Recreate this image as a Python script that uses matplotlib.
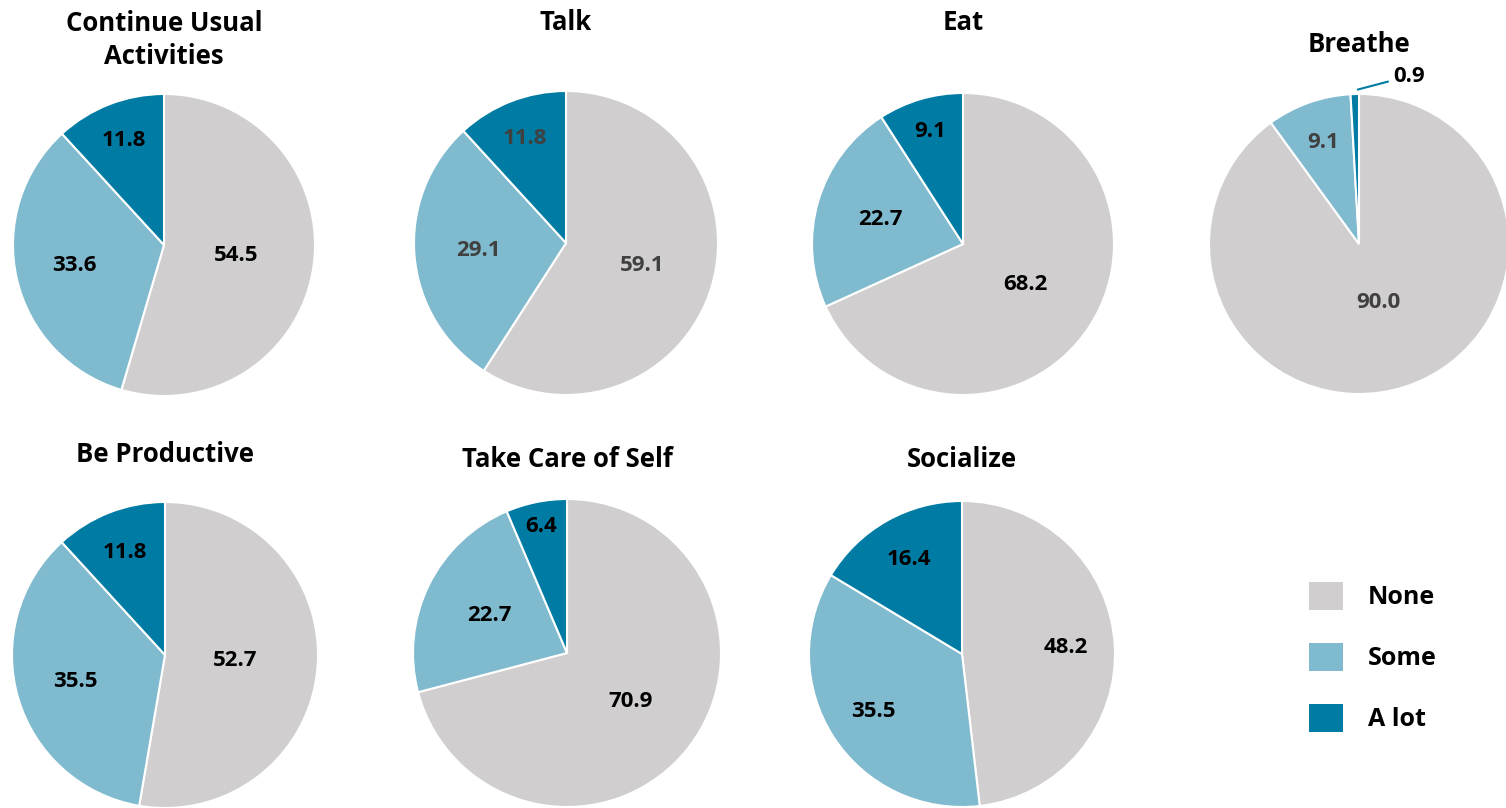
import numpy as np
import matplotlib
matplotlib.use('Agg')
import matplotlib.pyplot as plt
from matplotlib.patches import Patch

plt.rcParams['font.family'] = ['Open Sans', 'DejaVu Sans']
plt.rcParams['font.weight'] = 'bold'

# data
categories = ['None', 'Some', 'A lot']
titles = ['Continue Usual\nActivities', 'Talk', 'Eat', 'Breathe',
          'Be Productive', 'Take Care of Self', 'Socialize']
none_vals = [54.5, 59.1, 68.2, 90.0, 52.7, 70.9, 48.2]
some_vals = [33.6, 29.1, 22.7, 9.1, 35.5, 22.7, 35.5]
alot_vals = [11.8, 11.8, 9.1, 0.9, 11.8, 6.4, 16.4]

colors = ['#D0CECF', '#7FBACE', '#007BA3']
W, H = 1506, 808

# layout in pixels: pie centre x, centre y, radius, title y
layout = [
    (164, 245, 151, 40),
    (566, 243, 152, 22),
    (963, 244, 151, 22),
    (1359, 244, 150, 45),
    (165, 655, 153, 455),
    (567, 653, 154, 460),
    (962, 654, 153, 460),
]
# label distance (fraction of radius) for None, Some, A lot
label_r = [
    (0.48, 0.61, 0.74),
    (0.52, 0.58, 0.74),
    (0.49, 0.57, 0.78),
    (0.41, 0.72, None),
    (0.46, 0.61, 0.72),
    (0.52, 0.56, 0.84),
    (0.68, 0.69, 0.71),
]
# labels drawn in dark grey instead of black
grey_labels = {(1, 0), (1, 1), (1, 2), (3, 0), (3, 1)}

fig = plt.figure(figsize=(W / 100, H / 100), dpi=100)

for i, title in enumerate(titles):
    cx, cy, r, ty = layout[i]
    ax = fig.add_axes([(cx - r) / W, (H - cy - r) / H, 2 * r / W, 2 * r / H])
    vals = [none_vals[i], some_vals[i], alot_vals[i]]
    wedges, _ = ax.pie(vals, colors=colors, startangle=90, counterclock=False,
                       radius=1.0, wedgeprops=dict(edgecolor='white', linewidth=1.5))
    ax.set_xlim(-1, 1)
    ax.set_ylim(-1, 1)
    ax.set_aspect('equal')
    ax.axis('off')

    for j, w in enumerate(wedges):
        ang = np.deg2rad((w.theta1 + w.theta2) / 2)
        txt = f'{vals[j]:.1f}'
        col = '#404040' if (i, j) in grey_labels else 'black'
        d = label_r[i][j]
        if d is None:
            # small slice: label outside with a leader line
            ax.annotate(txt, xy=(np.cos(ang) + 0.02, np.sin(ang) + 0.03),
                        xytext=(0.23, 1.12), fontsize=16, fontweight='bold',
                        color='black', va='center', ha='left', annotation_clip=False,
                        arrowprops=dict(arrowstyle='-', color=colors[2], lw=1.5,
                                        shrinkA=2, shrinkB=0))
            continue
        ax.text(d * np.cos(ang), d * np.sin(ang), txt, ha='center', va='center',
                fontsize=16, fontweight='bold', color=col)

    fig.text(cx / W, 1 - ty / H, title, ha='center', va='center',
             fontsize=18.5, fontweight='bold', linespacing=1.3)

handles = [Patch(facecolor=c, edgecolor='none') for c in colors]
fig.legend(handles, categories, loc='center left', bbox_to_anchor=(1286 / W, 1 - 657 / H),
           frameon=False, fontsize=18, handlelength=1.36, handleheight=1.36,
           labelspacing=1.3, handletextpad=1.0)

fig.savefig('out.png', dpi=100)
